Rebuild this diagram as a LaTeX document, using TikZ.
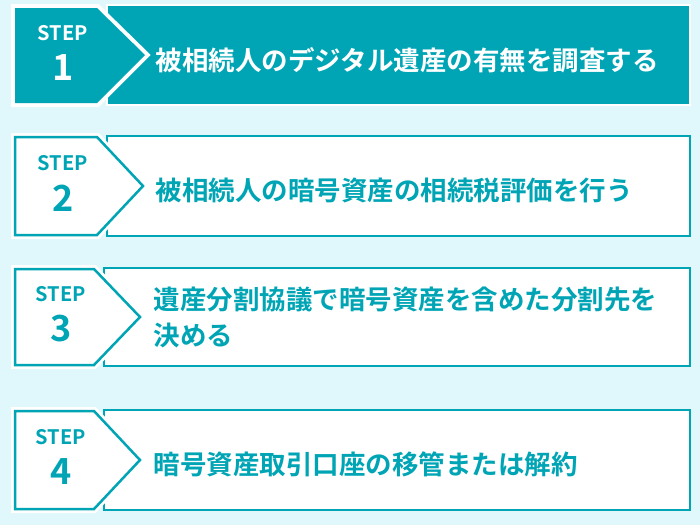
\documentclass[tikz,border=0pt]{standalone}
\usepackage{fontspec}
\setmainfont{Noto Sans CJK JP}[BoldFont={Noto Sans CJK JP Bold}]
\definecolor{teal1}{HTML}{00A5B5}
\definecolor{bg}{HTML}{E0F8FC}
\begin{document}
\begin{tikzpicture}[x=1pt,y=-1pt,
 rectbox/.style={draw=teal1,line width=2.5pt,fill=white},
 pentw/.style={draw=white,line width=8pt,line join=miter},
 pent/.style={draw=teal1,fill=white,line width=2.5pt,line join=miter},
 steptxt/.style={font=\bfseries\fontsize{20}{20}\selectfont,text=teal1},
 numtxt/.style={font=\bfseries\fontsize{36}{36}\selectfont,text=teal1},
 main/.style={anchor=west,font=\bfseries\fontsize{26.5}{36}\selectfont,text=teal1,align=left}]
\fill[bg] (0,0) rectangle (700,525);
\useasboundingbox (0,0) rectangle (700,525);
% step 1
\draw[draw=white,line width=2pt,fill=teal1] (107,5) rectangle (690,105);
\draw[pentw] (15,8) -- (97,8) -- (145,55) -- (97,103) -- (15,103) -- cycle;
\fill[teal1] (15,8) -- (97,8) -- (145,55) -- (97,103) -- (15,103) -- cycle;
\node[steptxt,text=white] (s1) at (63,33) {STEP};
\node[numtxt,text=white] (n1) at (63,68) {1};
\node[main,text=white] (t1) at (152,60) {被相続人のデジタル遺産の有無を調査する};
% step 2
\draw[rectbox] (107,136) rectangle (690,236);
\draw[pentw] (15,137) -- (97,137) -- (143,186) -- (97,235) -- (15,235) -- cycle;
\draw[pent] (15,137) -- (97,137) -- (143,186) -- (97,235) -- (15,235) -- cycle;
\node[steptxt] (s2) at (63,163) {STEP};
\node[numtxt] (n2) at (63,198) {2};
\node[main] (t2) at (152,190) {被相続人の暗号資産の相続税評価を行う};
% step 3
\draw[rectbox] (104,268) rectangle (690,366);
\draw[pentw] (15,269) -- (94,269) -- (140,317) -- (94,365) -- (15,365) -- cycle;
\draw[pent] (15,269) -- (94,269) -- (140,317) -- (94,365) -- (15,365) -- cycle;
\node[steptxt] (s3) at (61,294) {STEP};
\node[numtxt] (n3) at (61,329) {3};
\node[main] (t3) at (150,317) {遺産分割協議で暗号資産を含めた分割先を\\決める};
% step 4
\draw[rectbox] (104,410) rectangle (690,510);
\draw[pentw] (15,411) -- (94,411) -- (140,460) -- (94,509) -- (15,509) -- cycle;
\draw[pent] (15,411) -- (94,411) -- (140,460) -- (94,509) -- (15,509) -- cycle;
\node[steptxt] (s4) at (61,437) {STEP};
\node[numtxt] (n4) at (61,472) {4};
\node[main] (t4) at (150,464) {暗号資産取引口座の移管または解約};
\end{tikzpicture}
\end{document}
